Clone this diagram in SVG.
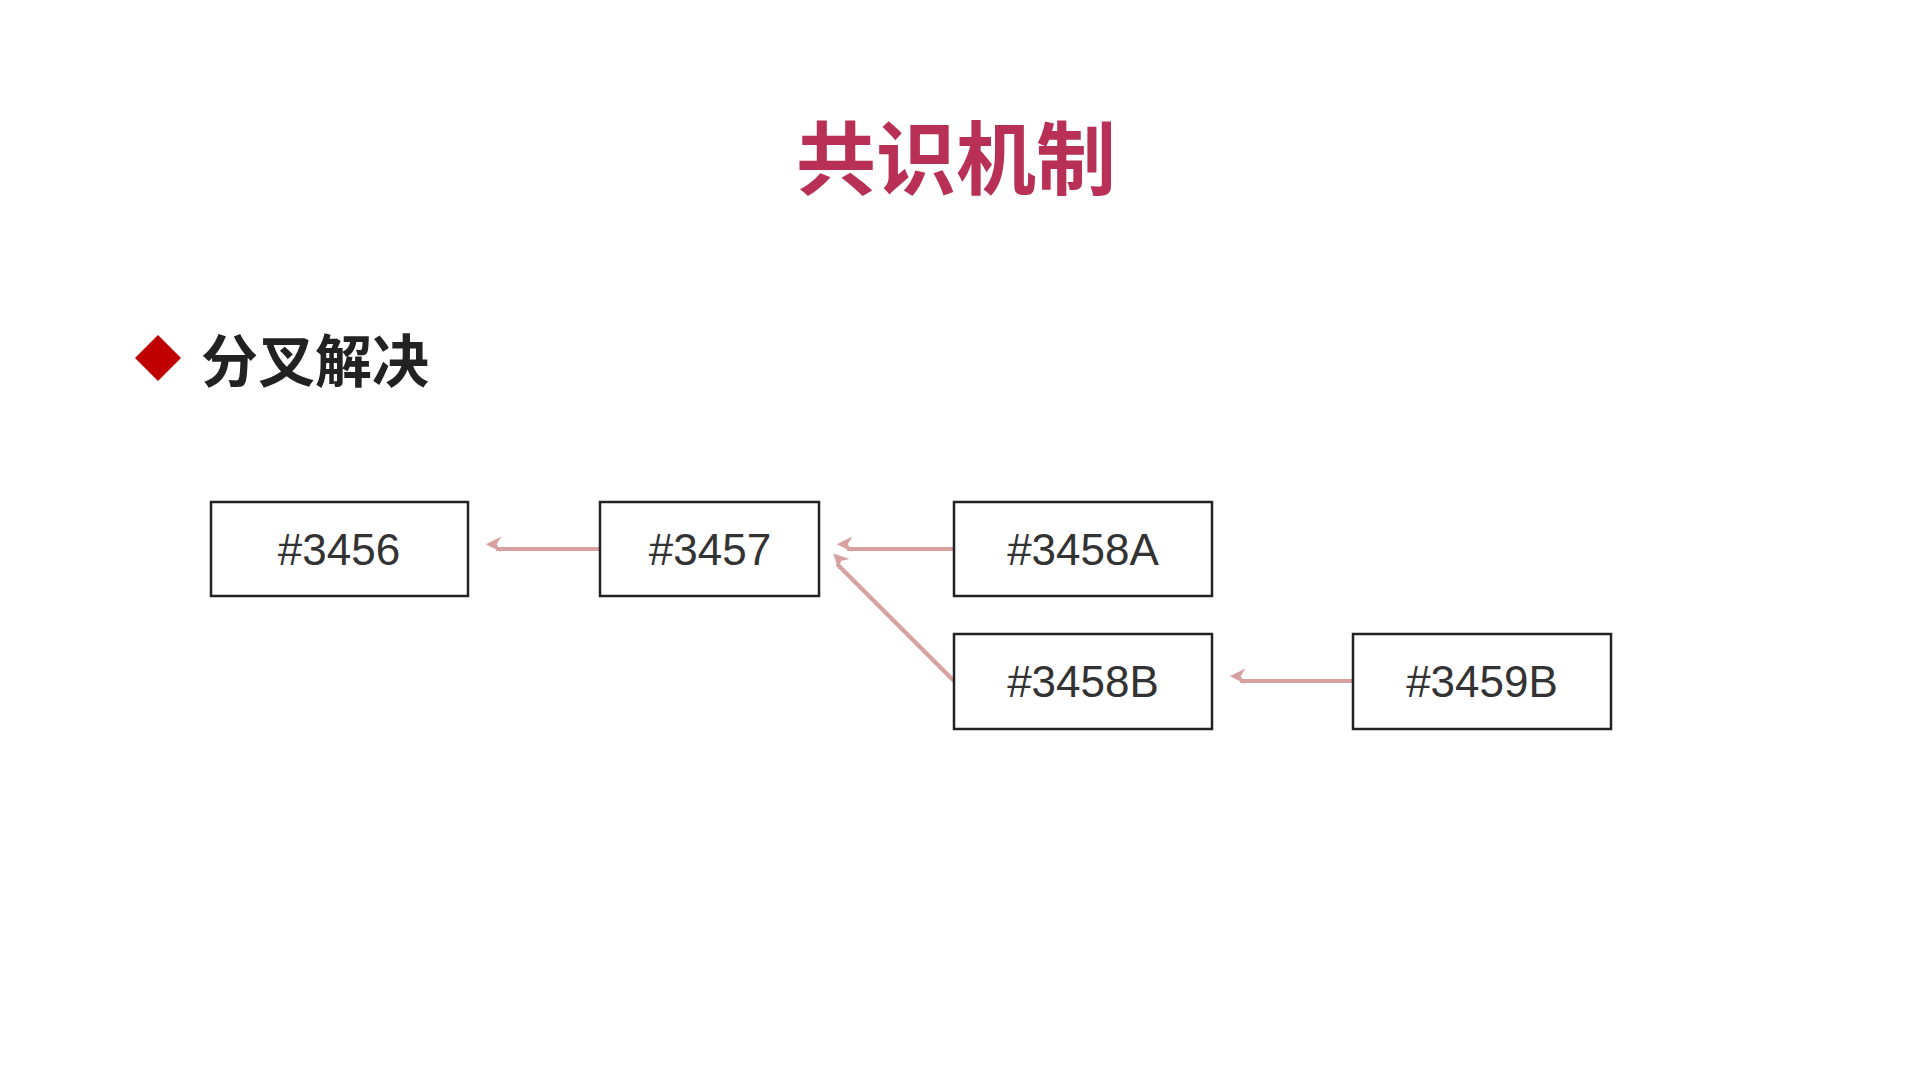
<svg xmlns="http://www.w3.org/2000/svg" width="1920" height="1080" viewBox="0 0 1920 1080">
<style>
.box{fill:#fff;stroke:#222;stroke-width:2.5}
.lbl{font-family:"Liberation Sans",Arial,sans-serif;font-size:44px;fill:#333;text-anchor:middle}
.c{stroke:#d9a0a0;stroke-width:4;fill:none;marker-end:url(#ah)}
</style>
<defs><marker id="ah" viewBox="0 0 10 10" refX="9" refY="5" markerWidth="6" markerHeight="6" orient="auto" markerUnits="userSpaceOnUse" overflow="visible"><path d="M0,0 L10,5 L0,10 L3,5 Z" fill="#d9a0a0" transform="scale(2.6) translate(-5,-5) translate(5,5)"/></marker></defs>
<rect width="1920" height="1080" fill="#fff"/>
<text x="956" y="188" text-anchor="middle" font-family="'Noto Sans CJK SC',sans-serif" font-weight="bold" font-size="80" fill="#b83055">共识机制</text>
<polygon points="158,335 181,358 158,381 135,358" fill="#c00000"/>
<text x="201" y="382" font-family="'Noto Sans CJK SC',sans-serif" font-weight="bold" font-size="57" fill="#222">分叉解决</text>
<g id="connectors">
<line class="c" x1="600" y1="549" x2="496" y2="549"/>
<line class="c" x1="954" y1="549" x2="847" y2="549"/>
<line class="c" x1="954" y1="681" x2="837" y2="564"/>
<line class="c" x1="1353" y1="681" x2="1240" y2="681"/>
</g>
<g id="n3456"><rect class="box" x="211" y="502" width="257" height="94"/><text class="lbl" x="339" y="565">#3456</text></g>
<g id="n3457"><rect class="box" x="600" y="502" width="219" height="94"/><text class="lbl" x="710" y="565">#3457</text></g>
<g id="n3458A"><rect class="box" x="954" y="502" width="258" height="94"/><text class="lbl" x="1083" y="565">#3458A</text></g>
<g id="n3458B"><rect class="box" x="954" y="634" width="258" height="95"/><text class="lbl" x="1083" y="697">#3458B</text></g>
<g id="n3459B"><rect class="box" x="1353" y="634" width="258" height="95"/><text class="lbl" x="1482" y="697">#3459B</text></g>
</svg>
